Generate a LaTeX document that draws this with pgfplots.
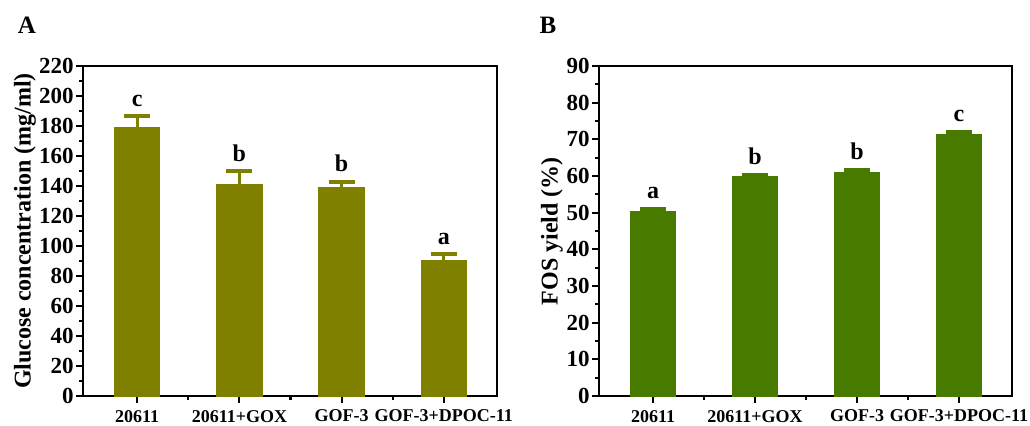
\documentclass[border=0pt]{standalone}
\usepackage{pgfplots}
\pgfplotsset{compat=1.18}
\usepackage{fontspec}
\setmainfont{Liberation Serif}
\definecolor{barA}{RGB}{128,128,0}
\definecolor{barB}{RGB}{72,122,0}
\pgfplotsset{
  myaxis/.style={
    scale only axis, width=207pt, height=165pt,
    anchor=south west,
    axis line style={line width=1.4pt},
    xmin=-0.53, xmax=3.52, ymin=0,
    xtick={0,1,2,3},
    xticklabels={20611,20611+GOX,GOF-3,GOF-3+DPOC-11},
    minor xtick={0.5,1.5,2.5},
    xtick pos=left, ytick pos=left, tick align=outside,
    major tick length=3.5pt, minor tick length=2pt,
    every tick/.style={line width=1.1pt, black},
    minor y tick num=1,
    /pgf/number format/assume math mode=true,
    yticklabel style={font=\fontsize{11.5}{12}\selectfont\bfseries, inner xsep=1pt},
    xticklabel style={font=\fontsize{9}{10}\selectfont\bfseries, inner xsep=0pt},
    ylabel style={anchor=center},
    ybar, bar width=22.5pt, bar shift=0pt,
    clip=false,
  },
}
\begin{document}
\begin{tikzpicture}[x=1pt,y=1pt]
\useasboundingbox (0,0) rectangle (515,212.5);
\node[font=\fontsize{12.5}{13}\selectfont\bfseries] at (13.5,200) {A};
\node[font=\fontsize{12.5}{13}\selectfont\bfseries] at (274,200) {B};
\begin{axis}[myaxis, at={(41.5pt,14.5pt)}, ymax=220, ytick={0,20,...,220},
  ylabel={Glucose concentration (mg/ml)},
  ylabel style={font=\fontsize{12}{12}\selectfont\bfseries, at={(axis description cs:-0.14,0.5)}}]
\addplot[fill=barA, draw=barA, line width=0.8pt,
  error bars/.cd, y dir=plus, y explicit,
  error bar style={barA, line width=1.5pt},
  error mark options={rotate=90, barA, mark size=6.5pt, line width=2pt}]
  coordinates {(0,179) +- (0,7.5) (1,140.5) +- (0,9.5) (2,139) +- (0,4) (3,90) +- (0,4.5)};
\node[font=\fontsize{12}{12}\selectfont\bfseries, anchor=south] at (axis cs:0,188) {c};
\node[font=\fontsize{12}{12}\selectfont\bfseries, anchor=south] at (axis cs:1,151.5) {b};
\node[font=\fontsize{12}{12}\selectfont\bfseries, anchor=south] at (axis cs:2,144.5) {b};
\node[font=\fontsize{12}{12}\selectfont\bfseries, anchor=south] at (axis cs:3,96) {a};
\end{axis}
\begin{axis}[myaxis, at={(299.5pt,14.5pt)}, width=206.5pt, ymax=90, ytick={0,10,...,90},
  ylabel={FOS yield (\%)},
  ylabel style={font=\fontsize{12}{12}\selectfont\bfseries, at={(axis description cs:-0.114,0.5)}}]
\addplot[fill=barB, draw=barB, line width=0.8pt,
  error bars/.cd, y dir=plus, y explicit,
  error bar style={barB, line width=1.5pt},
  error mark options={rotate=90, barB, mark size=6.5pt, line width=1.8pt}]
  coordinates {(0,50.2) +- (0,0.8) (1,59.7) +- (0,0.6) (2,60.9) +- (0,0.8) (3,71.3) +- (0,0.7)};
\node[font=\fontsize{12}{12}\selectfont\bfseries, anchor=south] at (axis cs:0,51.8) {a};
\node[font=\fontsize{12}{12}\selectfont\bfseries, anchor=south] at (axis cs:1,61.2) {b};
\node[font=\fontsize{12}{12}\selectfont\bfseries, anchor=south] at (axis cs:2,62.5) {b};
\node[font=\fontsize{12}{12}\selectfont\bfseries, anchor=south] at (axis cs:3,72.8) {c};
\end{axis}
\end{tikzpicture}
\end{document}
